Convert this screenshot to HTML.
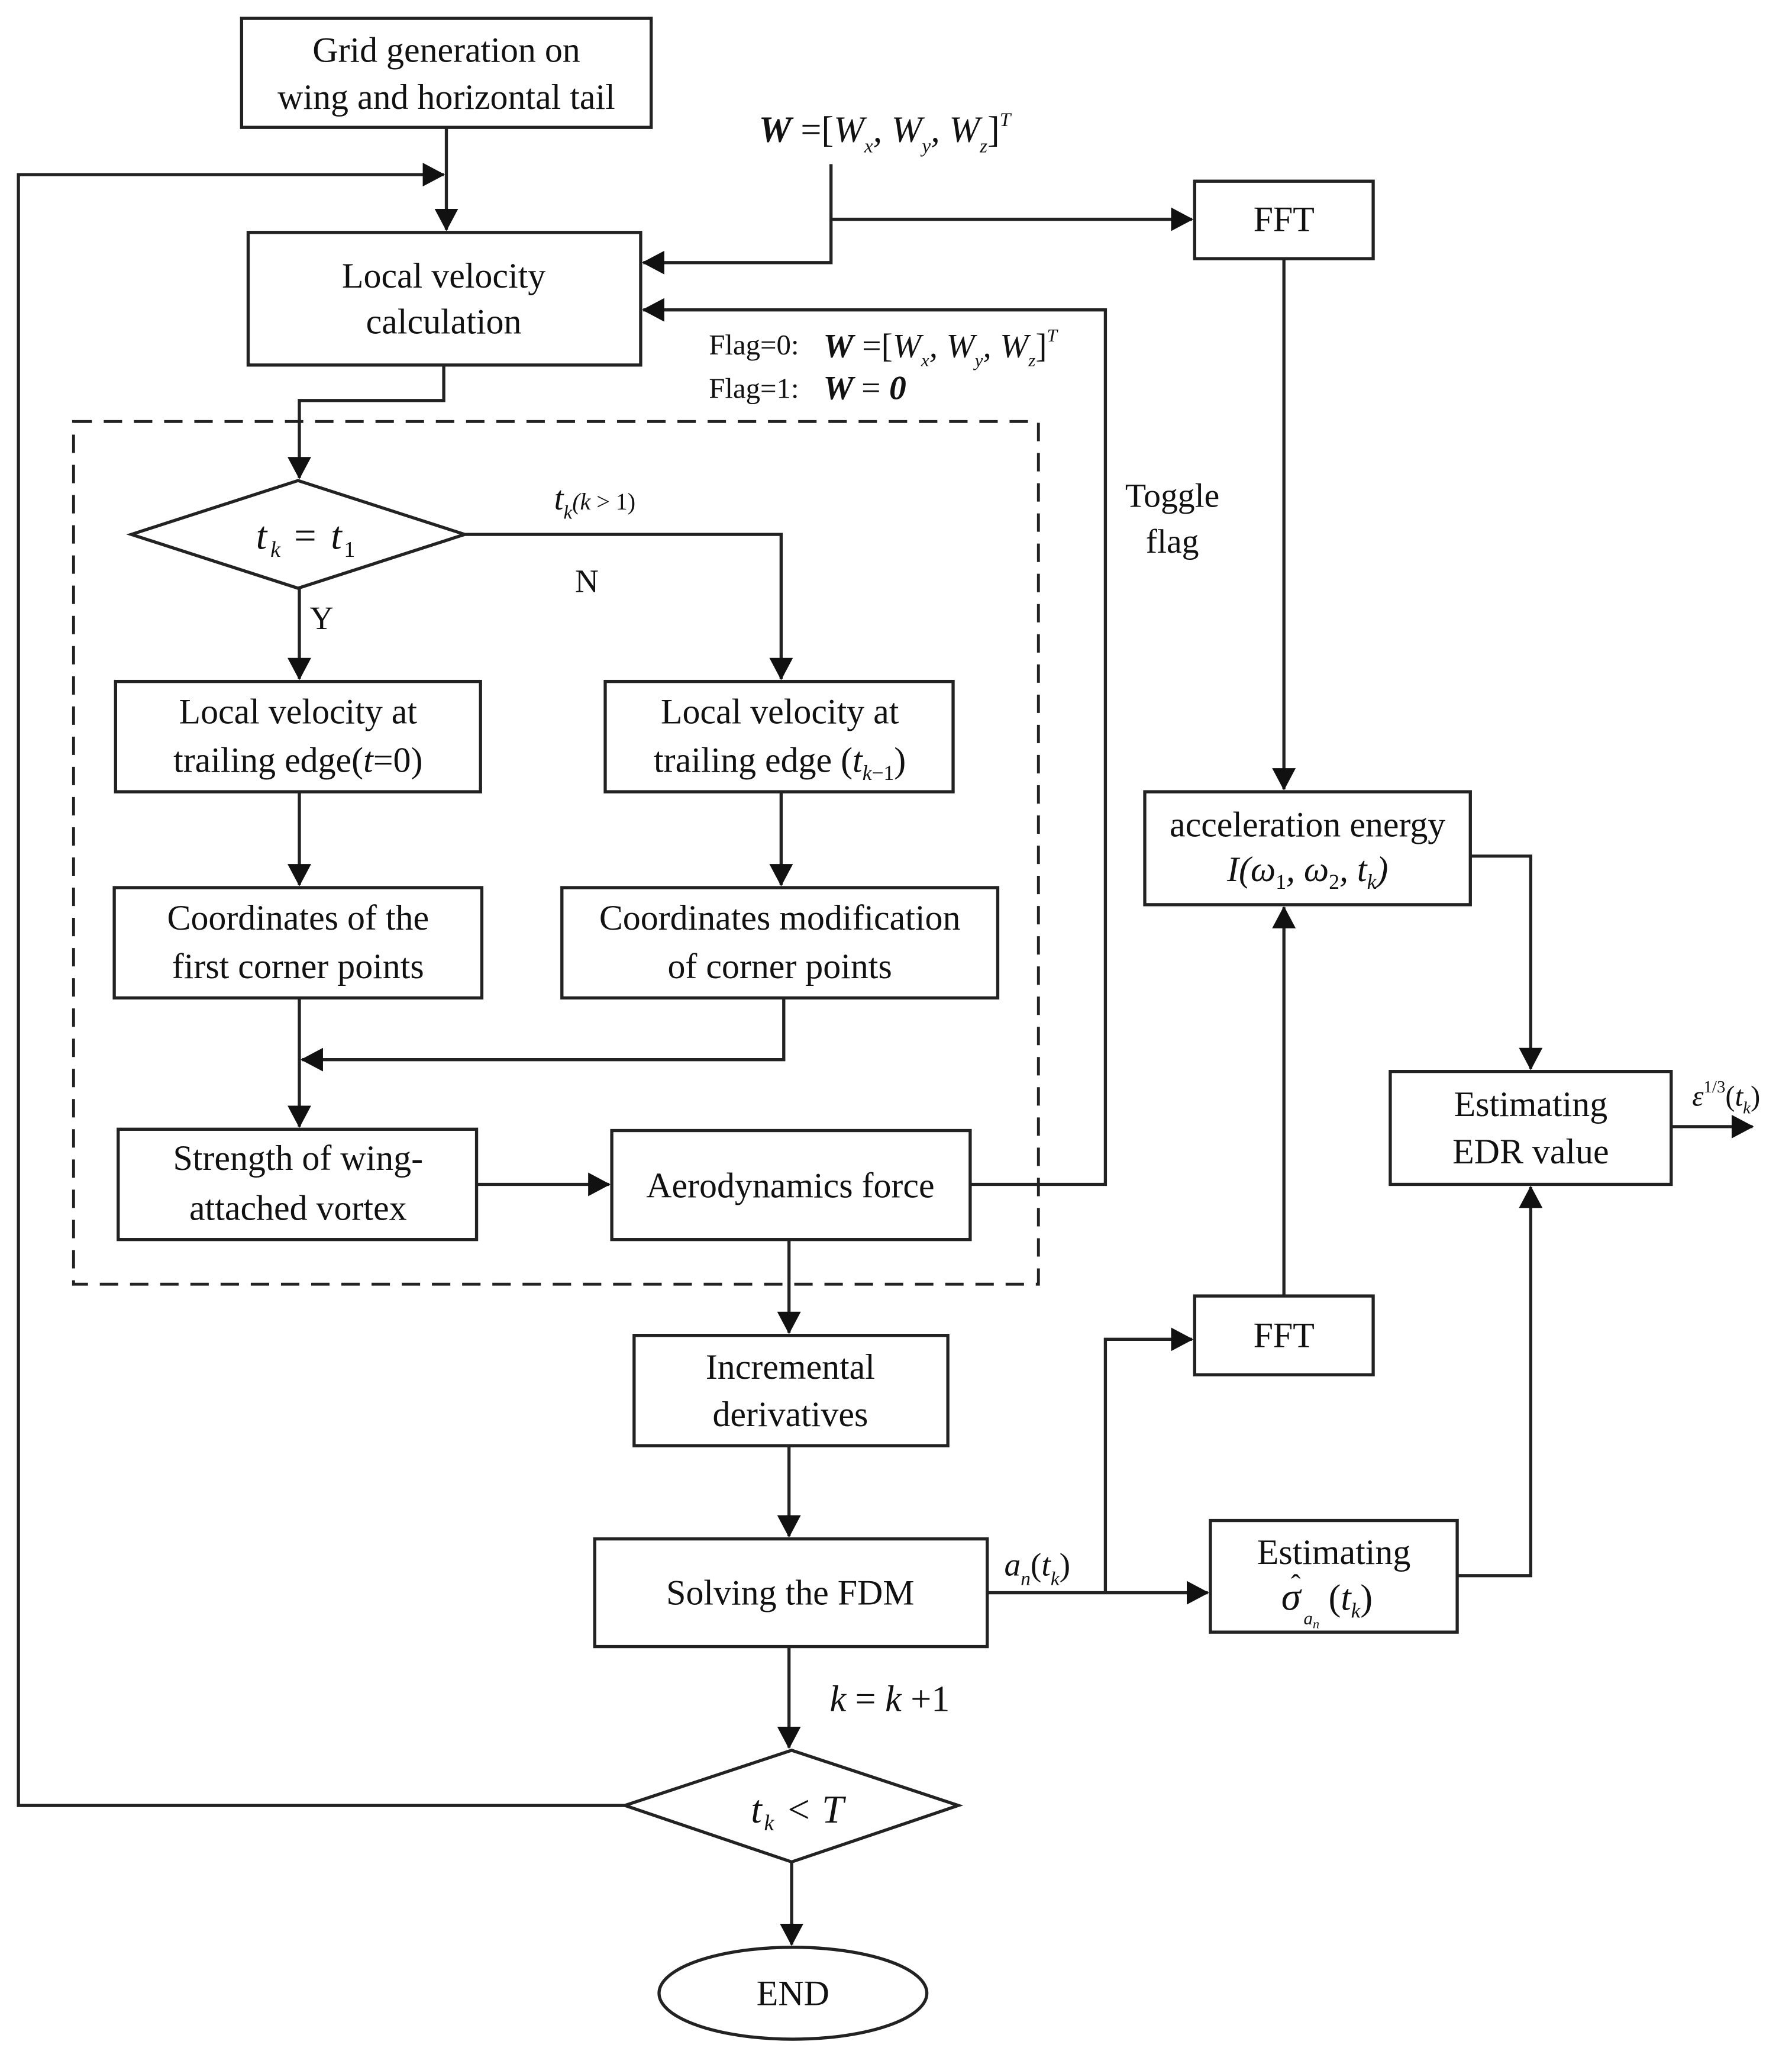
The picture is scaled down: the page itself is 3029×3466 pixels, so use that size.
<!DOCTYPE html>
<html><head><meta charset="utf-8"><style>
html,body{margin:0;padding:0;background:#fff;}
svg{display:block;}
text{font-family:"Liberation Serif",serif;fill:#111;}
.b{fill:#fff;stroke:#222;stroke-width:2.4;}
.l{fill:none;stroke:#222;stroke-width:2.4;}
.t{font-size:27px;text-anchor:middle;}
.i{font-style:italic;}
</style></head><body>
<svg width="3029" height="3466" viewBox="0 0 1365 1562" xmlns="http://www.w3.org/2000/svg">
<defs><marker id="a" markerWidth="18" markerHeight="18" refX="16" refY="9" orient="auto" markerUnits="userSpaceOnUse"><path d="M0,0 L17,9 L0,18 Z" fill="#111"/></marker></defs>

<path class="l" d="M476,1375 H14 V133 H338" marker-end="url(#a)"/>
<path class="l" d="M340,97 V175" marker-end="url(#a)"/>
<path class="l" d="M633,125 V200 H490" marker-end="url(#a)"/>
<path class="l" d="M633,167 H908" marker-end="url(#a)"/>
<path class="l" d="M739,902 H842 V236 H490" marker-end="url(#a)"/>
<path class="l" d="M338,278 V305 H228 V364" marker-end="url(#a)"/>
<path class="l" d="M354,407 H595 V517" marker-end="url(#a)"/>
<path class="l" d="M228,448 V517" marker-end="url(#a)"/>
<path class="l" d="M228,603 V674" marker-end="url(#a)"/>
<path class="l" d="M595,603 V674" marker-end="url(#a)"/>
<path class="l" d="M597,760 V807 H230" marker-end="url(#a)"/>
<path class="l" d="M228,760 V858" marker-end="url(#a)"/>
<path class="l" d="M363,902 H464" marker-end="url(#a)"/>
<path class="l" d="M601,944 V1015" marker-end="url(#a)"/>
<path class="l" d="M601,1101 V1170" marker-end="url(#a)"/>
<path class="l" d="M752,1213 H920" marker-end="url(#a)"/>
<path class="l" d="M842,1213 V1020 H908" marker-end="url(#a)"/>
<path class="l" d="M978,987 V691" marker-end="url(#a)"/>
<path class="l" d="M978,197 V601" marker-end="url(#a)"/>
<path class="l" d="M1120,652 H1166 V814" marker-end="url(#a)"/>
<path class="l" d="M1110,1200 H1166 V904" marker-end="url(#a)"/>
<path class="l" d="M1273,858 H1335" marker-end="url(#a)"/>
<path class="l" d="M601,1254 V1331" marker-end="url(#a)"/>
<path class="l" d="M603,1418 V1481" marker-end="url(#a)"/>

<rect class="b" x="184" y="14" width="312" height="83"/>
<text class="t" x="340" y="47">Grid generation on</text>
<text class="t" x="340" y="83">wing and horizontal tail</text>

<rect class="b" x="189" y="177" width="299" height="101"/>
<text class="t" x="338" y="219">Local velocity</text>
<text class="t" x="338" y="254">calculation</text>

<rect class="b" x="910" y="138" width="136" height="59"/>
<text class="t" x="978" y="176">FFT</text>

<rect x="56" y="321" width="735" height="657" fill="none" stroke="#222" stroke-width="2.2" stroke-dasharray="14,9"/>

<path class="b" d="M100,407 L227,366 L354,407 L227,448 Z"/>
<text x="195" y="418" font-size="30" class="i">t</text><text x="206" y="424" font-size="17" class="i">k</text>
<text x="224" y="418" font-size="30">=</text><text x="252" y="418" font-size="30" class="i">t</text><text x="262" y="424" font-size="17">1</text>

<rect class="b" x="88" y="519" width="278" height="84"/>
<text class="t" x="227" y="551">Local velocity at</text>
<text class="t" x="227" y="588">trailing edge(<tspan class="i">t</tspan>=0)</text>

<rect class="b" x="461" y="519" width="265" height="84"/>
<text class="t" x="594" y="551">Local velocity at</text>
<text class="t" x="594" y="588">trailing edge (<tspan class="i">t</tspan><tspan font-size="16" class="i" dy="6">k</tspan><tspan font-size="16" dy="0">−1</tspan><tspan dy="-6">)</tspan></text>

<rect class="b" x="87" y="676" width="280" height="84"/>
<text class="t" x="227" y="708">Coordinates of the</text>
<text class="t" x="227" y="745">first corner points</text>

<rect class="b" x="428" y="676" width="332" height="84"/>
<text class="t" x="594" y="708">Coordinates modification</text>
<text class="t" x="594" y="745">of corner points</text>

<rect class="b" x="90" y="860" width="273" height="84"/>
<text class="t" x="227" y="891">Strength of wing-</text>
<text class="t" x="227" y="929">attached vortex</text>

<rect class="b" x="466" y="861" width="273" height="83"/>
<text class="t" x="602" y="912">Aerodynamics force</text>

<rect class="b" x="483" y="1017" width="239" height="84"/>
<text class="t" x="602" y="1050">Incremental</text>
<text class="t" x="602" y="1086">derivatives</text>

<rect class="b" x="453" y="1172" width="299" height="82"/>
<text class="t" x="602" y="1222">Solving the FDM</text>

<path class="b" d="M476,1375 L603,1333 L730,1375 L603,1418 Z"/>
<text x="572" y="1388" font-size="30" class="i">t</text><text x="582" y="1394" font-size="17" class="i">k</text>
<text x="600" y="1388" font-size="30">&lt;</text><text x="626" y="1388" font-size="30" class="i">T</text>

<ellipse class="b" cx="604" cy="1518" rx="102" ry="35"/>
<text class="t" x="604" y="1527">END</text>

<rect class="b" x="872" y="603" width="248" height="86"/>
<text class="t" x="996" y="637">acceleration energy</text>
<text class="t i" x="996" y="671">I(ω<tspan font-size="16" dy="6" font-style="normal">1</tspan><tspan dy="-6">, ω</tspan><tspan font-size="16" dy="6" font-style="normal">2</tspan><tspan dy="-6">, t</tspan><tspan font-size="16" dy="6">k</tspan><tspan dy="-6">)</tspan></text>

<rect class="b" x="910" y="987" width="136" height="60"/>
<text class="t" x="978" y="1026">FFT</text>

<rect class="b" x="922" y="1158" width="188" height="85"/>
<text class="t" x="1016" y="1191">Estimating</text>
<text x="976" y="1226" font-size="30" class="i">σ</text>
<text x="987" y="1214" font-size="22" text-anchor="middle">ˆ</text>
<text x="993" y="1237" font-size="14" class="i">a<tspan font-size="10" dy="3">n</tspan></text>
<text x="1012" y="1226" font-size="28" class="i"><tspan font-style="normal">(</tspan>t<tspan font-size="16" dy="6">k</tspan><tspan dy="-6" font-style="normal">)</tspan></text>

<rect class="b" x="1059" y="816" width="214" height="86"/>
<text class="t" x="1166" y="850">Estimating</text>
<text class="t" x="1166" y="886">EDR value</text>

<text x="578" y="108" font-size="28" class="i"><tspan font-weight="bold">W</tspan><tspan font-style="normal"> =[</tspan>W<tspan font-size="15" dy="8">x</tspan><tspan dy="-8">, W</tspan><tspan font-size="15" dy="8">y</tspan><tspan dy="-8">, W</tspan><tspan font-size="15" dy="8">z</tspan><tspan dy="-8" font-style="normal">]</tspan><tspan font-size="15" dy="-12">T</tspan></text>
<text x="540" y="270" font-size="22">Flag=0:</text>
<text x="627" y="272" font-size="26" class="i"><tspan font-weight="bold">W</tspan><tspan font-style="normal"> =[</tspan>W<tspan font-size="14" dy="7">x</tspan><tspan dy="-7">, W</tspan><tspan font-size="14" dy="7">y</tspan><tspan dy="-7">, W</tspan><tspan font-size="14" dy="7">z</tspan><tspan dy="-7" font-style="normal">]</tspan><tspan font-size="14" dy="-12">T</tspan></text>
<text x="540" y="303" font-size="22">Flag=1:</text>
<text x="627" y="304" font-size="26" class="i" font-weight="bold">W <tspan font-weight="normal" font-style="normal">=</tspan> 0</text>
<text x="893" y="386" font-size="26" text-anchor="middle">Toggle</text>
<text x="893" y="421" font-size="26" text-anchor="middle">flag</text>
<text x="422" y="388" font-size="26" class="i">t<tspan font-size="15" dy="7">k</tspan><tspan dy="-7" font-size="18">(k</tspan><tspan font-size="18" font-style="normal"> &gt; 1)</tspan></text>
<text x="447" y="451" font-size="25" text-anchor="middle">N</text>
<text x="245" y="479" font-size="25" text-anchor="middle">Y</text>
<text x="765" y="1200" font-size="25" class="i">a<tspan font-size="15" dy="7">n</tspan><tspan dy="-7" font-style="normal">(</tspan>t<tspan font-size="15" dy="7">k</tspan><tspan dy="-7" font-style="normal">)</tspan></text>
<text x="632" y="1303" font-size="28" class="i">k <tspan font-style="normal">=</tspan> k <tspan font-style="normal">+1</tspan></text>
<text x="1289" y="842" font-size="22" class="i">ε<tspan font-size="13" dy="-10" font-style="normal">1/3</tspan><tspan dy="10" font-style="normal">(</tspan>t<tspan font-size="13" dy="6">k</tspan><tspan dy="-6" font-style="normal">)</tspan></text>
</svg>
</body></html>
